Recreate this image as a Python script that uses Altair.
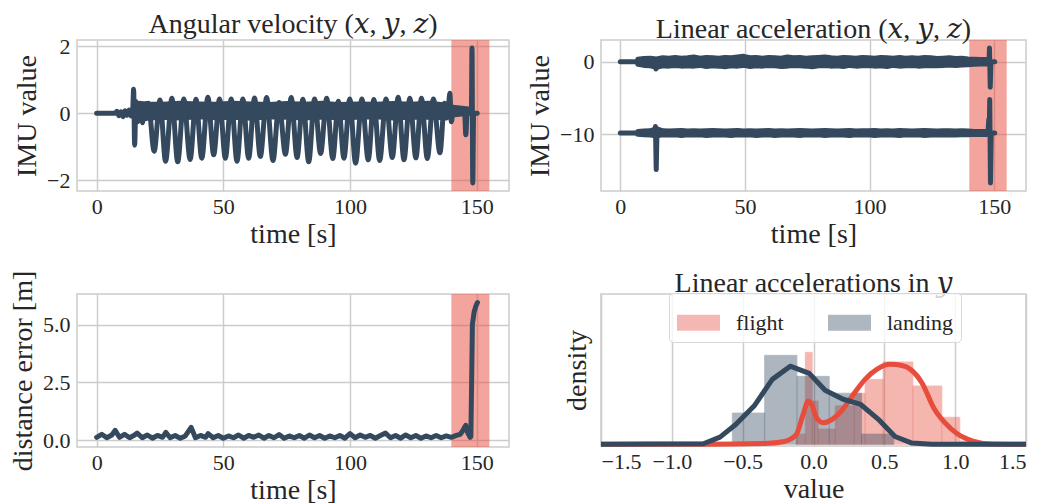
import altair as alt
import pandas as pd

FONT = "Liberation Serif"
TITLE_FONT = "Liberation Serif, DejaVu Serif"
DARK = "#34495e"
RED = "#e74c3c"
TXT = "#262626"
GRID = "#cccccc"

# ---------------- data ----------------
SPAN_START = [140]
SPAN_END = [155]

# Angular velocity: main oscillating axis
av_t = [0, 7.3, 8.0, 8.8, 9.6, 10.4, 11.2, 12.0, 12.8, 13.6, 14.2, 14.6, 15.0, 15.5, 16.3, 17.2, 18.1, 19.0, 20.4,
        22.7, 25.0, 27.2, 29.7, 32.0, 34.4, 36.9, 39.2, 41.5, 43.9, 46.2, 48.5, 50.8, 53.1, 55.4, 57.7,
        60.0, 62.3, 64.6, 67.1, 69.6, 72.0, 74.5, 76.8, 79.1, 81.4, 83.7, 86.0, 88.4, 90.8, 93.2, 95.4,
        97.6, 99.9, 102.2, 104.7, 107.2, 109.4, 111.7, 114.2, 116.7, 119.0, 121.3, 123.6, 126.0, 128.2,
        130.5, 132.9, 135.5, 137.3,
        138.6, 139.4, 140.0, 140.8, 142.0, 143.0, 144.0, 145.2, 145.7, 146.3, 147.2, 147.9, 148.15, 148.45, 148.8, 150.2]
av_v = [0, 0, 0.06, -0.07, 0.05, -0.1, 0.08, -0.06, 0.1, -0.08, 0.05, 0.72, -0.95, 0.35, -0.25, 0.3, -0.28, 0.25, 0.3,
        -1.13, 0.4, -1.43, 0.45, -1.45, 0.43, -1.38, 0.42, -1.34, 0.48, -1.24, 0.43, -1.34, 0.43, -1.43, 0.43,
        -1.34, 0.46, -1.29, 0.47, -1.41, 0.32, -1.22, 0.47, -1.32, 0.42, -1.45, 0.43, -1.2, 0.45, -1.35, 0.36,
        -1.34, 0.43, -1.49, 0.43, -1.39, 0.41, -1.41, 0.43, -1.32, 0.48, -1.39, 0.45, -1.33, 0.45,
        -1.35, 0.43, -1.18, 0.3,
        0.0, 0.6, -0.25, 0.15, 0.05, 0.15, 0.0, 0.1, -0.64, 0.1, 0.05, 0.1, 1.95, -2.08, 0.0, 0.0]
# Angular velocity: envelope of the two smaller axes
av_band_t = [15.5, 20, 26, 33, 40, 47, 54, 61, 68, 75, 82, 89, 96, 103, 110, 117, 124, 131, 138, 140.5, 144, 147.8]
av_band_lo = [-0.2, -0.15, -0.12, -0.14, -0.1, -0.13, -0.12, -0.15, -0.1, -0.12, -0.14, -0.11, -0.13, -0.12,
              -0.1, -0.14, -0.12, -0.11, -0.14, -0.05, -0.02, 0.0]
av_band_hi = [0.3, 0.28, 0.27, 0.3, 0.28, 0.27, 0.3, 0.28, 0.26, 0.29, 0.27, 0.3, 0.26, 0.28, 0.27, 0.29,
              0.27, 0.3, 0.25, 0.18, 0.15, 0.12]

# Linear acceleration: envelopes of the noisy bands
acc_band_t = [7, 9.5, 12, 14.5, 17, 19.5, 22, 24.5, 27, 29.5, 32, 34.5, 37, 39.5, 42, 44.5, 47, 49.5, 52, 54.5,
              57, 59.5, 62, 64.5, 67, 69.5, 72, 74.5, 77, 79.5, 82, 84.5, 87, 89.5, 92, 94.5, 97, 99.5, 102, 104.5,
              107, 109.5, 112, 114.5, 117, 119.5, 122, 124.5, 127, 129.5, 132, 134.5, 137, 139.5, 142, 144.5, 147]
acc_up_hi = [0.35, 0.45, 0.5, 0.4, 0.55, 0.5, 0.6, 0.5, 0.55, 0.65, 0.5, 0.6, 0.55, 0.5, 0.6, 0.55, 0.65, 0.75, 0.55, 0.6,
             0.5, 0.6, 0.55, 0.5, 0.65, 0.55, 0.6, 0.5, 0.55, 0.6, 0.65, 0.55, 0.5, 0.6, 0.55, 0.5, 0.6, 0.55, 0.5, 0.6,
             0.55, 0.5, 0.6, 0.5, 0.55, 0.5, 0.6, 0.55, 0.45, 0.5, 0.55, 0.45, 0.5, 0.4, 0.35, 0.3, 0.3]
acc_up_lo = [-0.35, -0.5, -0.55, -0.75, -0.55, -0.6, -0.5, -0.6, -0.55, -0.6, -0.5, -0.65, -0.55, -0.6, -0.7, -0.55,
             -0.6, -0.5, -0.65, -0.55, -0.6, -0.5, -0.55, -0.65, -0.6, -0.5, -0.55, -0.6, -0.7, -0.55, -0.5, -0.6,
             -0.55, -0.65, -0.5, -0.6, -0.55, -0.5, -0.6, -0.55, -0.65, -0.5, -0.6, -0.55, -0.5, -0.6, -0.55, -0.5,
             -0.55, -0.5, -0.45, -0.5, -0.45, -0.4, -0.35, -0.3, -0.3]
acc_lo_hi = [-9.6, -9.55, -9.5, -9.2, -9.5, -9.55, -9.5, -9.45, -9.55, -9.5, -9.55, -9.5, -9.45, -9.5, -9.55, -9.5,
             -9.45, -9.55, -9.5, -9.55, -9.5, -9.45, -9.55, -9.5, -9.55, -9.5, -9.45, -9.5, -9.55, -9.5, -9.45, -9.5,
             -9.55, -9.5, -9.45, -9.55, -9.5, -9.5, -9.45, -9.55, -9.5, -9.55, -9.45, -9.5, -9.55, -9.5, -9.45, -9.5,
             -9.55, -9.5, -9.5, -9.55, -9.5, -9.55, -9.6, -9.6, -9.6]
acc_lo_lo = [-10.0, -10.05, -10.1, -10.2, -10.05, -10.1, -10.05, -10.15, -10.05, -10.1, -10.05, -10.15, -10.1, -10.05,
             -10.1, -10.15, -10.05, -10.1, -10.05, -10.15, -10.1, -10.05, -10.15, -10.1, -10.05, -10.1, -10.15, -10.05,
             -10.1, -10.05, -10.15, -10.1, -10.05, -10.1, -10.15, -10.05, -10.1, -10.05, -10.15, -10.1, -10.05, -10.1,
             -10.15, -10.05, -10.1, -10.05, -10.15, -10.1, -10.05, -10.1, -10.05, -10.1, -10.05, -10.05, -10.0, -10.0,
             -10.0]
# Linear acceleration: flat starts, spikes and ends
acc_up_t = [0, 7, 14.0, 14.3, 14.6, 147.9, 148.1, 148.4, 148.7, 150.2]
acc_up_v = [0, 0, 0, -0.98, 0, 0, 1.9, -3.5, 0, 0]
acc_lo_t = [0, 7, 13.9, 14.1, 14.4, 14.7, 147.5, 147.8, 148.0, 148.2, 148.5, 148.8, 150.2]
acc_lo_v = [-9.8, -9.8, -9.8, -8.9, -14.85, -9.8, -9.8, -8.0, -9.6, -5.2, -16.7, -9.8, -9.8]

# Distance error
dist_t = [0, 2, 4, 6, 7.3, 9, 11, 13, 15, 16, 18, 20, 22, 24, 26, 27.3, 29, 31, 33, 35, 37.3, 39, 41, 43, 44, 46,
          48, 50, 52, 54, 56, 58, 60, 62, 64, 66, 68, 70, 72, 74, 76, 78, 80, 82, 84, 86, 88, 90, 92, 94, 96, 98,
          100, 102, 104, 106, 108, 110, 112, 114, 116, 118, 120, 122, 124, 126, 128, 130, 132, 134, 136, 138, 140,
          142, 143.5, 144.5, 145.7, 146.5, 147.4, 147.7, 148.0, 148.3, 149.0, 149.7, 150.3]
dist_v = [0.12, 0.25, 0.1, 0.22, 0.42, 0.12, 0.25, 0.1, 0.22, 0.3, 0.1, 0.22, 0.08, 0.2, 0.12, 0.33, 0.1, 0.2, 0.08,
          0.18, 0.55, 0.1, 0.2, 0.12, 0.28, 0.1, 0.2, 0.08, 0.18, 0.1, 0.22, 0.08, 0.2, 0.12, 0.22, 0.08, 0.2, 0.1,
          0.24, 0.08, 0.18, 0.1, 0.2, 0.08, 0.22, 0.1, 0.2, 0.08, 0.18, 0.1, 0.2, 0.08, 0.28, 0.1, 0.22, 0.12, 0.2,
          0.08, 0.2, 0.3, 0.1, 0.2, 0.08, 0.22, 0.1, 0.2, 0.08, 0.18, 0.1, 0.2, 0.1, 0.18, 0.12, 0.2, 0.25, 0.4,
          0.64, 0.3, 0.12, 0.15, 2.5, 5.0, 5.55, 5.8, 5.95]

# Histograms (bin edges and density heights)
land_x0 = [-0.573, -0.345, -0.117, 0.111, 0.339]
land_x1 = [-0.345, -0.117, 0.111, 0.339, 0.567]
land_d = [0.52, 1.48, 1.13, 0.85, 0.17]
fl_x0 = [-0.122, -0.058, -0.009, 0.033, 0.153, 0.287, 0.364, 0.491, 0.702, 0.906, 1.033]
fl_x1 = [-0.058, -0.009, 0.033, 0.153, 0.287, 0.364, 0.491, 0.702, 0.906, 1.033, 1.132]
fl_d = [0.17, 1.53, 0.72, 0.255, 0.64, 0.85, 1.08, 1.37, 0.97, 0.45, 0.055]

# KDE curves
land_kde_v = [-1.5, -0.777, -0.66, -0.549, -0.418, -0.291, -0.164, -0.03, 0.082, 0.209, 0.329, 0.456, 0.575,
              0.695, 0.835, 1.5]
land_kde_d = [0, 0.01, 0.12, 0.33, 0.64, 1.08, 1.3, 1.18, 0.9, 0.75, 0.67, 0.42, 0.13, 0.02, 0, 0]
fl_kde_v = [-1.5, -0.75, -0.354, -0.206, -0.122, -0.073, -0.037, -0.009, 0.019, 0.068, 0.125, 0.202, 0.294,
            0.364, 0.449, 0.54, 0.625, 0.688, 0.766, 0.85, 0.927, 1.012, 1.125, 1.258, 1.5]
fl_kde_d = [0, 0, 0.013, 0.047, 0.16, 0.5, 0.72, 0.64, 0.455, 0.36, 0.405, 0.57, 0.87, 1.08, 1.25, 1.33, 1.31,
            1.24, 1.02, 0.6, 0.36, 0.18, 0.055, 0.005, 0]

# ---------------- frames ----------------
span_df = pd.DataFrame({"t0": SPAN_START, "t1": SPAN_END})
av_df = pd.DataFrame({"t": av_t, "v": av_v})
av_band_df = pd.DataFrame({"t": av_band_t, "lo": av_band_lo, "hi": av_band_hi})
acc_up_band = pd.DataFrame({"t": acc_band_t, "lo": acc_up_lo, "hi": acc_up_hi})
acc_lo_band = pd.DataFrame({"t": acc_band_t, "lo": acc_lo_lo, "hi": acc_lo_hi})
acc_up_df = pd.DataFrame({"t": acc_up_t, "v": acc_up_v})
acc_lo_df = pd.DataFrame({"t": acc_lo_t, "v": acc_lo_v})
dist_df = pd.DataFrame({"t": dist_t, "v": dist_v})
hist_df = pd.concat([
    pd.DataFrame({"series": "flight", "x0": fl_x0, "x1": fl_x1, "d": fl_d}),
    pd.DataFrame({"series": "landing", "x0": land_x0, "x1": land_x1, "d": land_d}),
], ignore_index=True)
hist_df["base"] = 0.0
fl_kde_df = pd.DataFrame({"v": fl_kde_v, "d": fl_kde_d})
land_kde_df = pd.DataFrame({"v": land_kde_v, "d": land_kde_d})

# ---------------- helpers ----------------
tscale = alt.Scale(domain=[-7.75, 162.75], nice=False, zero=False)
taxis = alt.Axis(values=[0, 50, 100, 150], format="d", title="time [s]")
LW = 5


def time_panel(yscale, yaxis, layers_spec, width, height, title=None):
    X = lambda f: alt.X(f, type="quantitative", scale=tscale, axis=taxis)
    Y = lambda f: alt.Y(f, type="quantitative", scale=yscale, axis=yaxis)
    layers = [alt.Chart(span_df).mark_rect(color=RED, opacity=0.5).encode(x=X("t0"), x2="t1")]
    for kind, df in layers_spec:
        if kind == "band":
            layers.append(alt.Chart(df).mark_area(color=DARK, stroke=DARK, strokeWidth=5, strokeJoin="round",
                                                  opacity=1).encode(x=X("t"), y=Y("lo"), y2="hi"))
        elif kind == "smooth":
            layers.append(alt.Chart(df).mark_line(color=DARK, strokeWidth=LW, interpolate="monotone",
                                                  strokeCap="round", strokeJoin="round").encode(x=X("t"), y=Y("v")))
        else:
            layers.append(alt.Chart(df).mark_line(color=DARK, strokeWidth=LW, strokeCap="round",
                                                  strokeJoin="round").encode(x=X("t"), y=Y("v")))
    props = dict(width=width, height=height)
    if title:
        props["title"] = title
    return alt.layer(*layers).properties(**props)


top_left = time_panel(
    alt.Scale(domain=[-2.32, 2.19], nice=False),
    alt.Axis(values=[-2, 0, 2], format="d", title="IMU value"),
    [("band", av_band_df), ("smooth", av_df)], 432, 151, "Angular velocity (𝑥, 𝑦, 𝑧)")

top_right = time_panel(
    alt.Scale(domain=[-17.8, 3.0], nice=False),
    alt.Axis(values=[-10, 0], format="d", title="IMU value"),
    [("band", acc_up_band), ("band", acc_lo_band), ("line", acc_up_df), ("line", acc_lo_df)],
    425, 151, "Linear acceleration (𝑥, 𝑦, 𝑧)")

bottom_left = time_panel(
    alt.Scale(domain=[-0.30, 6.32], nice=False),
    alt.Axis(values=[0, 2.5, 5.0], format=".1f", title="distance error [m]"),
    [("line", dist_df)], 432, 153)

vscale = alt.Scale(domain=[-1.5, 1.5], nice=False, zero=False)
vaxis = alt.Axis(values=[-1.5, -1.0, -0.5, 0.0, 0.5, 1.0, 1.5], format=".1f", title="value")
dscale = alt.Scale(domain=[-0.028, 2.5], nice=False, zero=False)
daxis = alt.Axis(title="density", labels=False, grid=False, ticks=False, titlePadding=10)
cscale = alt.Scale(domain=["flight", "landing"], range=[RED, DARK])

# legend is positioned relative to the concat origin (top-left plot corner)
hist = alt.Chart(hist_df).mark_rect(opacity=0.4, strokeWidth=0.8).encode(
    x=alt.X("x0:Q", scale=vscale, axis=vaxis), x2="x1:Q",
    y=alt.Y("d:Q", scale=dscale, axis=daxis), y2="base:Q",
    color=alt.Color("series:N", scale=cscale, legend=alt.Legend(
        title=None, orient="none", legendX=592, legendY=253, direction="horizontal",
        symbolType="M-1,-0.372L1,-0.372L1,0.372L-1,0.372Z", symbolSize=1849, symbolOpacity=0.4,
        symbolStrokeWidth=0, labelFont=FONT, labelFontSize=22, labelColor=TXT, labelOffset=16,
        columnPadding=44, padding=8, fillColor="rgba(255,255,255,0.8)", strokeColor="#d8d8d8",
        cornerRadius=4)),
    stroke=alt.Stroke("series:N", scale=cscale, legend=None),
)
fl_kde = alt.Chart(fl_kde_df).mark_line(color=RED, strokeWidth=LW, interpolate="monotone").encode(
    x=alt.X("v:Q", scale=vscale, axis=vaxis), y=alt.Y("d:Q", scale=dscale, axis=daxis))
land_kde = alt.Chart(land_kde_df).mark_line(color=DARK, strokeWidth=LW, strokeJoin="round").encode(
    x=alt.X("v:Q", scale=vscale, axis=vaxis), y=alt.Y("d:Q", scale=dscale, axis=daxis))
bottom_right = alt.layer(hist, fl_kde, land_kde).properties(
    width=425, height=152, title="Linear accelerations in 𝑦")

chart = alt.concat(
    top_left, top_right, bottom_left, bottom_right,
    columns=2, bounds="flush", spacing={"row": 103, "column": 92},
).configure(
    font=FONT, padding={"left": 0, "top": 2, "right": 0, "bottom": 0}
).configure_view(
    stroke=GRID, strokeWidth=1.5
).configure_axis(
    labelFont=FONT, titleFont=FONT, labelFontSize=22, titleFontSize=28, labelColor=TXT, titleColor=TXT,
    titleFontWeight="normal", gridColor=GRID, gridWidth=1.5, domain=False, ticks=False,
    labelPadding=7
).configure_axisX(
    labelPadding=5, titlePadding=3
).configure_axisY(
    titlePadding=5
).configure_title(
    font=TITLE_FONT, fontSize=28, fontWeight="normal", color=TXT, offset=-4, anchor="middle"
).configure_legend(
    strokeWidth=1
)

chart.save("out.html", embed_options={"renderer": "svg", "actions": False})
